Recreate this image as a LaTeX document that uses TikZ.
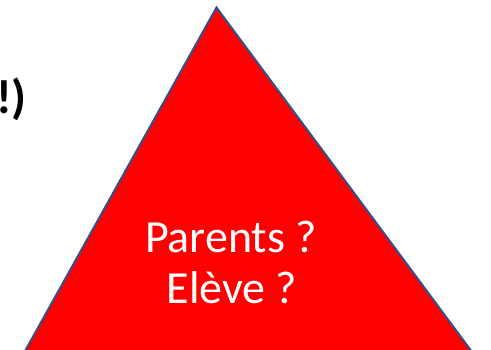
\documentclass[tikz,border=0pt]{standalone}
\usepackage{fontspec}
\setmainfont{Carlito}
\definecolor{tri}{HTML}{FF0000}
\definecolor{edge}{HTML}{2F528F}
\tikzset{
  tribox/.style={fill=tri, draw=edge, line width=2pt, line join=miter},
  lbl/.style={text=white, font=\fontsize{46}{51}\selectfont, inner sep=0pt, anchor=base},
  blk/.style={text=black, font=\fontsize{48}{50}\selectfont\bfseries, inner sep=0pt, anchor=base west}
}
\begin{document}
\begin{tikzpicture}[x=1pt,y=-1pt]
\useasboundingbox (0,0) rectangle (491,350);
\clip (0,0) rectangle (491,350);
\coordinate (apex) at (216.5,7.5);
\coordinate (bl) at (20,360);
\coordinate (br) at (478,360);
\draw[tribox] (apex) -- (br) -- (bl) -- cycle;
\node[lbl] (par) at (231,253) {Parents ?};
\node[lbl] (elv) at (232,304) {Elève ?};
\node[blk] (excl) at (-4,114) {!)};
\end{tikzpicture}
\end{document}
